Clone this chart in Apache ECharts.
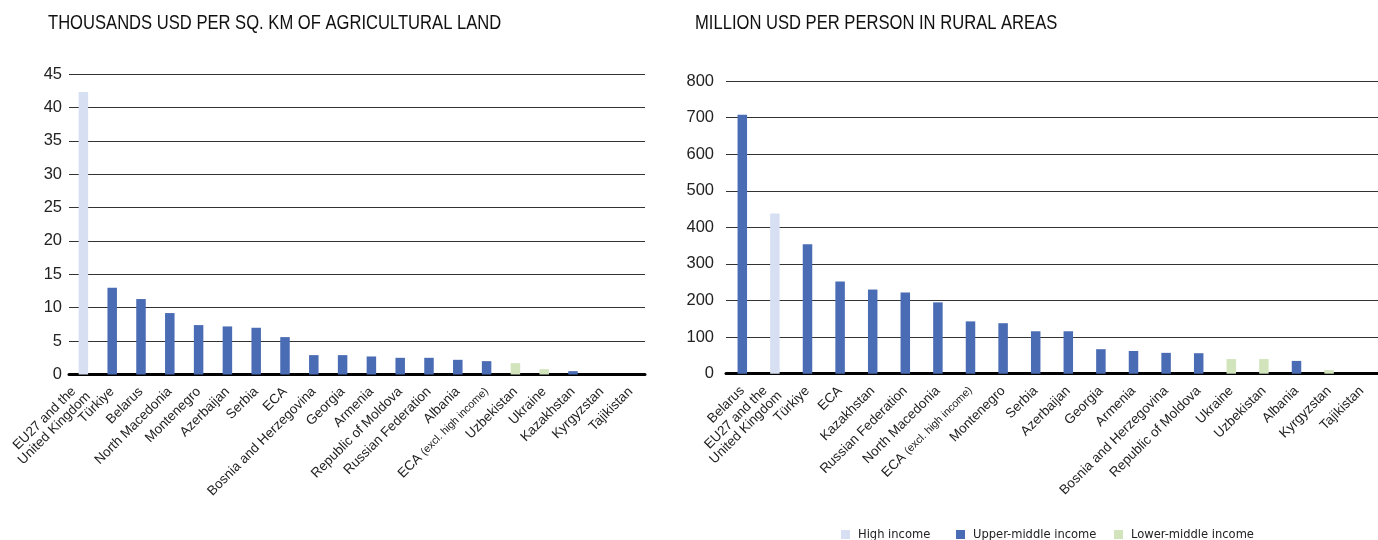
<!DOCTYPE html>
<html>
<head>
<meta charset="utf-8">
<script src="https://cdn.jsdelivr.net/npm/echarts@6/dist/echarts.min.js"></script>
<style>
  html, body { margin: 0; padding: 0; background: #ffffff; }
  #chart { width: 1378px; height: 540px; }
</style>
</head>
<body>
<div id="chart"></div>
<script>
// Income group labels and colours
const groups = ['High income', 'Upper-middle income', 'Lower-middle income'];
const groupColors = ['#D6E0F2', '#4A6CB4', '#D2E4BC'];

// Left panel: thousands USD per sq. km of agricultural land
const landCategories = [
  'EU27 and the\nUnited Kingdom', 'Türkiye', 'Belarus', 'North Macedonia', 'Montenegro',
  'Azerbaijan', 'Serbia', 'ECA', 'Bosnia and Herzegovina', 'Georgia', 'Armenia',
  'Republic of Moldova', 'Russian Federation', 'Albania', 'ECA (excl. high income)',
  'Uzbekistan', 'Ukraine', 'Kazakhstan', 'Kyrgyzstan', 'Tajikistan'
];
const landValues = [42.3, 13.0, 11.3, 9.2, 7.4, 7.2, 7.0, 5.6, 2.9, 2.9, 2.7, 2.5, 2.5, 2.2, 2.0, 1.7, 0.8, 0.5, 0, 0];
const landGroups = [0, 1, 1, 1, 1, 1, 1, 1, 1, 1, 1, 1, 1, 1, 1, 2, 2, 1, 2, 2];
const landTicks = { min: 0, max: 45, interval: 5 };

// Right panel: million USD per person in rural areas
const ruralCategories = [
  'Belarus', 'EU27 and the\nUnited Kingdom', 'Türkiye', 'ECA', 'Kazakhstan',
  'Russian Federation', 'North Macedonia', 'ECA (excl. high income)', 'Montenegro',
  'Serbia', 'Azerbaijan', 'Georgia', 'Armenia', 'Bosnia and Herzegovina',
  'Republic of Moldova', 'Ukraine', 'Uzbekistan', 'Albania', 'Kyrgyzstan', 'Tajikistan'
];
const ruralValues = [708, 438, 354, 252, 230, 222, 195, 143, 138, 116, 116, 67, 62, 57, 56, 40, 40, 35, 10, 0];
const ruralGroups = [1, 0, 1, 1, 1, 1, 1, 1, 1, 1, 1, 1, 1, 1, 1, 2, 2, 1, 2, 2];
const ruralTicks = { min: 0, max: 800, interval: 100 };

const titles = ['THOUSANDS USD PER SQ. KM OF AGRICULTURAL LAND', 'MILLION USD PER PERSON IN RURAL AREAS'];

const sans = '"Liberation Sans", Arial, sans-serif';
const condensed = '"DejaVu Sans Condensed", "Liberation Sans", sans-serif';

// Category names: centre the lines of two-line names, set parenthetical notes smaller
function categoryLabel(value) {
  if (value.indexOf('\n') >= 0) {
    return value.split('\n').map(s => '{c|' + s + '}').join('\n');
  }
  const m = value.match(/^(.*?) (\(.*\))$/);
  if (m) return '{n|' + m[1] + ' }{s|' + m[2] + '}';
  return value;
}

function xAxisFor(idx, cats) {
  return {
    type: 'category', gridIndex: idx, data: cats,
    axisLine: { show: true, lineStyle: { color: '#000', width: 3 } },
    axisTick: { show: false },
    axisLabel: {
      interval: 0, rotate: 45, margin: 15,
      color: '#222', fontFamily: sans, fontSize: 13.5, lineHeight: 14,
      formatter: categoryLabel,
      rich: {
        c: { align: 'center', color: '#222', fontFamily: sans, fontSize: 13.5, lineHeight: 14 },
        n: { color: '#222', fontFamily: sans, fontSize: 13.5, lineHeight: 14 },
        s: { color: '#222', fontFamily: sans, fontSize: 10.8, lineHeight: 14 }
      }
    }
  };
}

function yAxisFor(idx, t, margin) {
  return {
    type: 'value', gridIndex: idx, min: t.min, max: t.max, interval: t.interval,
    axisLine: { show: false }, axisTick: { show: false },
    axisLabel: { color: '#222', fontFamily: sans, fontSize: 16.5, margin: margin },
    splitLine: { show: true, lineStyle: { color: '#333', width: 1 } }
  };
}

function seriesFor(idx, values, grp) {
  return groups.map((name, g) => ({
    name: name, type: 'bar', stack: 'panel' + idx,
    xAxisIndex: idx, yAxisIndex: idx,
    barWidth: 9.5,
    itemStyle: { color: groupColors[g] },
    data: values.map((v, i) => (grp[i] === g ? v : '-'))
  }));
}

const legendPos = [841, 956, 1114];

// Panel headings: narrow grotesque look via horizontal scaling
function heading(text, x) {
  return {
    type: 'text', x: x, y: 12.5, scaleX: 0.79, silent: true,
    style: { text: text, fontSize: 21, fontFamily: sans, fill: '#111', verticalAlign: 'top' }
  };
}

const option = {
  animation: false,
  backgroundColor: '#ffffff',
  graphic: [heading(titles[0], 48), heading(titles[1], 695)],
  legend: groups.map((name, g) => ({
    data: [name], left: legendPos[g], top: 528, padding: 0,
    icon: 'rect', itemWidth: 9, itemHeight: 9,
    selectedMode: false,
    textStyle: { fontFamily: condensed, fontSize: 12.8, color: '#222', padding: [0, 0, 0, 3] }
  })),
  grid: [
    { left: 69, right: 733, top: 74, bottom: 165.5 },
    { left: 726, right: -17, top: 81, bottom: 166.3 }
  ],
  xAxis: [xAxisFor(0, landCategories), xAxisFor(1, ruralCategories)],
  yAxis: [yAxisFor(0, landTicks, 7), yAxisFor(1, ruralTicks, 12)],
  series: [].concat(seriesFor(0, landValues, landGroups), seriesFor(1, ruralValues, ruralGroups))
};

const chart = echarts.init(document.getElementById('chart'), null, { renderer: 'canvas' });
chart.setOption(option);
</script>
</body>
</html>
